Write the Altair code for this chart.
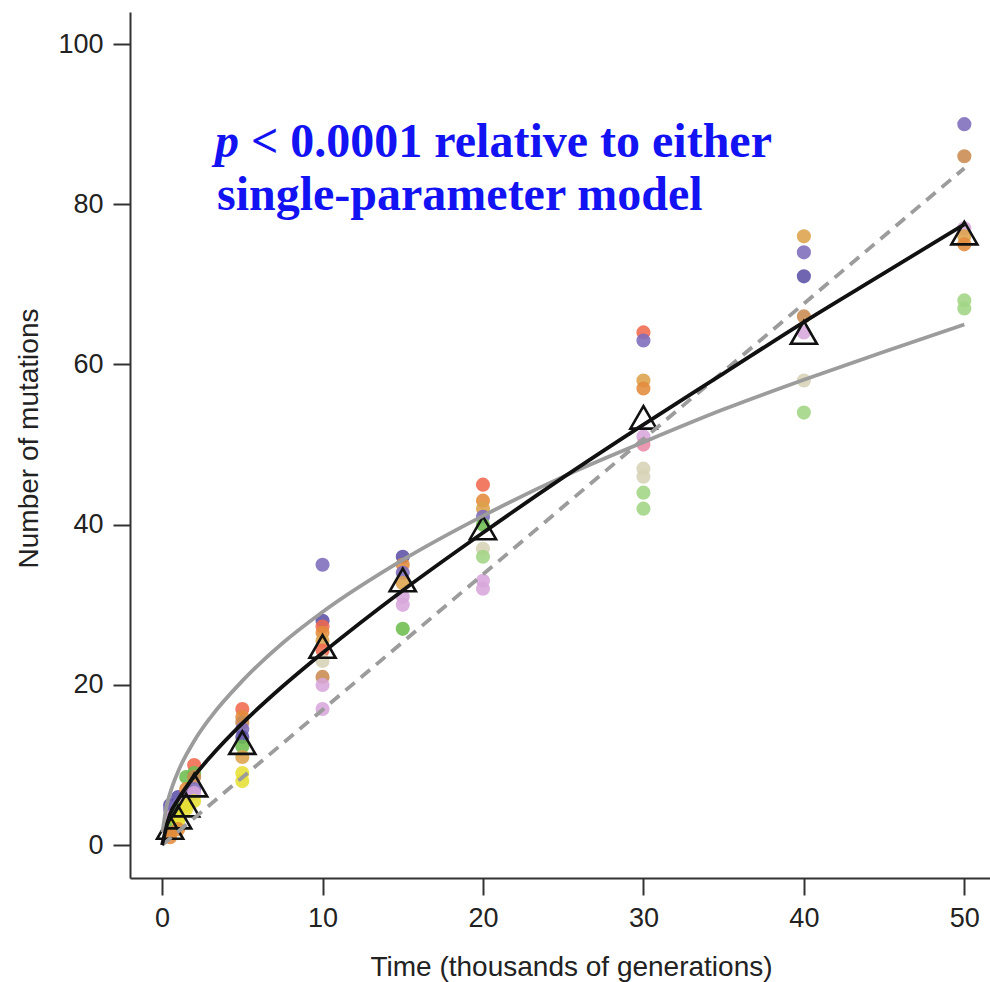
import altair as alt
import pandas as pd

# ---------------- data ----------------
# Per-population mutation counts (time in thousands of generations)
pt_time = (
    [0.5] * 7 + [1] * 6 + [1.5] * 6 + [2] * 6 + [5] * 9 + [10] * 10
    + [15] * 7 + [20] * 9 + [30] * 10 + [40] * 7 + [50] * 7
)
pt_pop = (
    ["navy", "purple", "lilac", "yellow", "green", "brown", "orange"]
    + ["navy", "purple", "green", "yellow", "yellow", "orange"]
    + ["green", "orange", "purple", "lilac", "yellow", "yellow"]
    + ["red", "green", "brown", "purple", "lilac", "yellow"]
    + ["red", "orange", "brown", "purple", "navy", "green", "gold", "yellow", "yellow"]
    + ["purple", "navy", "red", "orange", "gold", "red", "beige", "brown", "lilac", "lilac"]
    + ["navy", "orange", "purple", "gold", "lilac", "lilac", "green"]
    + ["red", "orange", "gold", "purple", "green", "beige", "lgreen", "lilac", "lilac"]
    + ["red", "purple", "gold", "orange", "lilac", "pink", "beige", "beige", "lgreen", "lgreen"]
    + ["gold", "purple", "navy", "brown", "lilac", "beige", "lgreen"]
    + ["purple", "brown", "lilac", "gold", "orange", "lgreen", "lgreen"]
)
pt_value = (
    [5, 4.5, 3.5, 2.5, 2, 1.5, 1]
    + [6, 5, 4.5, 3.5, 3, 2]
    + [8.5, 7, 6, 5.5, 5, 4.5]
    + [10, 9, 8.5, 7, 6.5, 5.5]
    + [17, 16, 15.3, 14.5, 13.5, 12.3, 11, 9, 8]
    + [35, 28, 27.3, 26.5, 25.5, 24.3, 23, 21, 20, 17]
    + [36, 35, 34, 32.7, 31, 30, 27]
    + [45, 43, 42, 41, 40, 37, 36, 33, 32]
    + [64, 63, 58, 57, 51, 50, 47, 46, 44, 42]
    + [76, 74, 71, 66, 64, 58, 54]
    + [90, 86, 77, 76, 75, 68, 67]
)

pop_names = ["red", "orange", "brown", "gold", "purple", "navy",
             "green", "lgreen", "lilac", "pink", "beige", "yellow"]
pop_colors = ["#f0694e", "#e38b3a", "#c98a4e", "#dca24b", "#7d6cbc", "#5b50a6",
              "#6dbd4e", "#a2d584", "#d7a6db", "#ea8aa7", "#d6d3b6", "#e6df34"]

# Means (open triangles)
mean_time = [0.5, 1, 1.5, 2, 5, 10, 15, 20, 30, 40, 50]
mean_value = [2.2, 3.5, 5, 7.5, 12.8, 24.8, 33.1, 39.6, 53.4, 64.0, 76.4]

# Two-parameter model (black)
fit_time = [0, 0.5, 1, 2, 3, 5, 7.5, 10, 15, 20, 25, 30, 35, 40, 45, 50]
fit_value = [0, 3.9, 5.7, 8.6, 11.0, 15.2, 19.8, 24.0, 31.8, 39.0, 45.9, 52.5, 58.9, 65.3, 71.4, 77.5]

# Square-root model (grey solid)
sqrt_time = [0.03, 0.25, 0.5, 1, 2, 3, 5, 7.5, 10, 15, 20, 25, 30, 35, 40, 45, 50]
sqrt_value = [1.6, 4.6, 6.5, 9.2, 13.0, 15.9, 20.5, 25.2, 29.1, 35.6, 41.1, 46.0, 50.3, 54.4, 58.1, 61.6, 65.0]

# Linear model (grey dashed)
lin_time = [0, 50]
lin_value = [0, 84.5]

# ---------------- chart ----------------
points = pd.DataFrame({"t": pt_time, "n": pt_value, "pop": pt_pop})
means = pd.DataFrame({"t": mean_time, "n": mean_value})
fit = pd.DataFrame({"t": fit_time, "n": fit_value})
sq = pd.DataFrame({"t": sqrt_time, "n": sqrt_value})
lin = pd.DataFrame({"t": lin_time, "n": lin_value})

FONT = "Liberation Sans"
TXT = "#222222"

x_enc = alt.X(
    "t:Q",
    scale=alt.Scale(domain=[-2, 51.6], nice=False, zero=False),
    axis=alt.Axis(
        values=[0, 10, 20, 30, 40, 50], format="d", grid=False,
        title="Time (thousands of generations)",
        domainColor="#333333", domainWidth=2, tickColor="#333333", tickWidth=2,
        tickSize=17, labelFontSize=27, labelFont=FONT, labelColor=TXT,
        labelBaseline="alphabetic", labelPadding=31,
        titleFontSize=28, titleFont=FONT, titleColor=TXT, titleFontWeight="normal",
        titleX=441, titleY=97, titleBaseline="alphabetic",
    ),
)
y_enc = alt.Y(
    "n:Q",
    scale=alt.Scale(domain=[-4.1, 104], nice=False, zero=False),
    axis=alt.Axis(
        values=[0, 20, 40, 60, 80, 100], format="d", grid=False,
        title="Number of mutations",
        domainColor="#333333", domainWidth=2, tickColor="#333333", tickWidth=2,
        tickSize=17, labelFontSize=27, labelFont=FONT, labelColor=TXT,
        labelPadding=10,
        titleFontSize=28, titleFont=FONT, titleColor=TXT, titleFontWeight="normal",
        titleAngle=270, titleX=-93, titleY=426, titleBaseline="alphabetic",
    ),
)

pts = alt.Chart(points).mark_circle(size=200, opacity=0.88).encode(
    x=x_enc, y=y_enc,
    color=alt.Color("pop:N", scale=alt.Scale(domain=pop_names, range=pop_colors), legend=None),
)

tri = alt.Chart(means).mark_point(
    shape="triangle-up", size=680, filled=False, stroke="#111111",
    strokeWidth=2.6, opacity=1, fillOpacity=0,
).encode(x="t:Q", y="n:Q")

sq_line = alt.Chart(sq).mark_line(
    color="#9c9c9c", strokeWidth=3.8, interpolate="monotone"
).encode(x="t:Q", y="n:Q")

lin_line = alt.Chart(lin).mark_line(
    color="#9c9c9c", strokeWidth=3.8, strokeDash=[12, 8]
).encode(x="t:Q", y="n:Q")

fit_line = alt.Chart(fit).mark_line(
    color="#111111", strokeWidth=3.8, interpolate="monotone"
).encode(x="t:Q", y="n:Q")

BLUE = "#1212f2"
ann_p = alt.Chart(pd.DataFrame({"a": [0]})).mark_text(
    text="p", font="Liberation Serif", fontWeight="bold", fontStyle="italic",
    fontSize=48, color=BLUE, align="left", baseline="alphabetic",
).encode(x=alt.value(85), y=alt.value(145))

ann_1 = alt.Chart(pd.DataFrame({"a": [0]})).mark_text(
    text="< 0.0001 relative to either", font="Liberation Serif", fontWeight="bold",
    fontSize=48, color=BLUE, align="left", baseline="alphabetic",
).encode(x=alt.value(121), y=alt.value(145))

ann_2 = alt.Chart(pd.DataFrame({"a": [0]})).mark_text(
    text="single-parameter model", font="Liberation Serif", fontWeight="bold",
    fontSize=48, color=BLUE, align="left", baseline="alphabetic",
).encode(x=alt.value(87), y=alt.value(198))

chart = alt.layer(
    pts, tri, sq_line, lin_line, fit_line, ann_p, ann_1, ann_2
).properties(
    width=860, height=866,
    padding={"left": 130, "top": 12, "right": 0, "bottom": 104},
    autosize=alt.AutoSizeParams(type="none"),
    background="white",
).configure_view(stroke=None)

chart.save("out.html", embed_options={"renderer": "svg", "actions": False})
